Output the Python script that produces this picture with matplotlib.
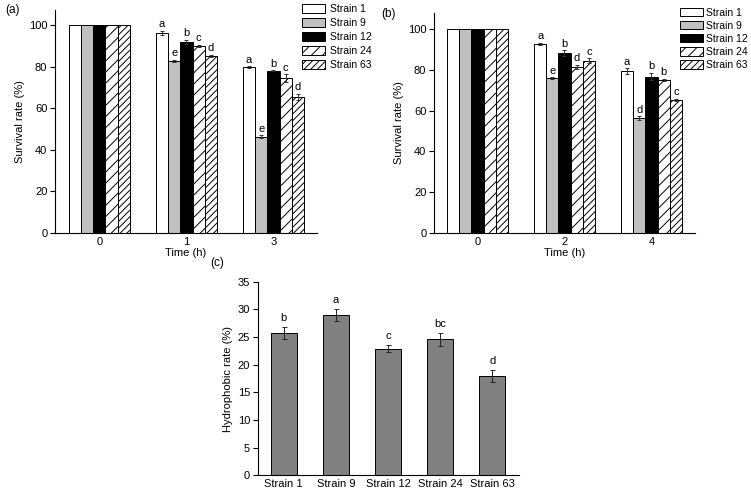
import matplotlib
matplotlib.use("Agg")
import matplotlib.pyplot as plt
import numpy as np

plt.rcParams['font.family'] = ['Liberation Sans', 'DejaVu Sans']
plt.rcParams['hatch.linewidth'] = 0.7

strains = ["Strain 1", "Strain 9", "Strain 12", "Strain 24", "Strain 63"]

# Panel (a)
times_a = ["0", "1", "3"]
vals_a = {
    "Strain 1":  [100, 96.3, 79.8],
    "Strain 9":  [100, 82.8, 46.2],
    "Strain 12": [100, 91.8, 77.9],
    "Strain 24": [100, 89.9, 74.5],
    "Strain 63": [100, 85.0, 65.4],
}
err_a = {
    "Strain 1":  [0, 1.0, 0.3],
    "Strain 9":  [0, 0.5, 0.6],
    "Strain 12": [0, 1.0, 0.3],
    "Strain 24": [0, 0.5, 1.8],
    "Strain 63": [0, 0.5, 1.3],
}
letters_a = {
    "Strain 1":  ["", "a", "a"],
    "Strain 9":  ["", "e", "e"],
    "Strain 12": ["", "b", "b"],
    "Strain 24": ["", "c", "c"],
    "Strain 63": ["", "d", "d"],
}

# Panel (b)
times_b = ["0", "2", "4"]
vals_b = {
    "Strain 1":  [100, 92.8, 79.3],
    "Strain 9":  [100, 75.8, 56.3],
    "Strain 12": [100, 88.1, 76.6],
    "Strain 24": [100, 81.5, 75.0],
    "Strain 63": [100, 84.5, 65.3],
}
err_b = {
    "Strain 1":  [0, 0.4, 1.4],
    "Strain 9":  [0, 0.5, 0.8],
    "Strain 12": [0, 1.5, 1.8],
    "Strain 24": [0, 1.0, 0.5],
    "Strain 63": [0, 1.2, 0.4],
}
letters_b = {
    "Strain 1":  ["", "a", "a"],
    "Strain 9":  ["", "e", "d"],
    "Strain 12": ["", "b", "b"],
    "Strain 24": ["", "d", "b"],
    "Strain 63": ["", "c", "c"],
}

# Panel (c)
hydro_vals = [25.8, 29.0, 22.9, 24.6, 18.0]
hydro_err = [1.1, 1.1, 0.6, 1.2, 1.1]
hydro_letters = ["b", "a", "c", "bc", "d"]

styles = {
    "Strain 1":  dict(color="white", hatch=None),
    "Strain 9":  dict(color="#c0c0c0", hatch=None),
    "Strain 12": dict(color="black", hatch=None),
    "Strain 24": dict(color="white", hatch="///"),
    "Strain 63": dict(color="white", hatch="/////"),
}

FS = 8

fig = plt.figure(figsize=(7.51, 4.93), dpi=100)


def grouped(ax, times, vals, errs, letters, ymax, xlim):
    x = np.arange(len(times))
    w = 0.14
    handles = []
    for i, s in enumerate(strains):
        pos = x + (i - 2) * w
        st = styles[s]
        b = ax.bar(pos, vals[s], width=w, color=st["color"], hatch=st["hatch"],
                   edgecolor="black", linewidth=0.7, label=s, zorder=2)
        handles.append(b)
        e = np.array(errs[s])
        m = e > 0
        ax.errorbar(pos[m], np.array(vals[s])[m], yerr=e[m], fmt="none",
                    ecolor="#333333", elinewidth=0.7, capsize=1.6, capthick=0.7, zorder=3)
        for p, v, er, l in zip(pos, vals[s], errs[s], letters[s]):
            if l:
                ax.text(p, v + er + 0.8, l, ha="center", va="bottom", fontsize=FS)
    ax.set_xlim(*xlim)
    ax.set_ylim(0, ymax)
    ax.set_xticks(x)
    ax.set_xticklabels(times)
    ax.set_yticks([0, 20, 40, 60, 80, 100])
    ax.set_xlabel("Time (h)", fontsize=FS, labelpad=1)
    ax.set_ylabel("Survival rate (%)", fontsize=FS, labelpad=3)
    for sp in ["top", "right"]:
        ax.spines[sp].set_visible(False)
    for sp in ["left", "bottom"]:
        ax.spines[sp].set_linewidth(0.8)
    ax.tick_params(axis="y", direction="out", length=3.5, width=0.8, labelsize=FS, pad=2)
    ax.tick_params(axis="x", direction="in", length=3, width=0.8, labelsize=FS, pad=3)
    return handles


ax_a = fig.add_axes([0.0732, 0.528, 0.3489, 0.4517])
h = grouped(ax_a, times_a, vals_a, err_a, letters_a, 107.2, (-0.51, 2.5))
fig.legend(handles=h, labels=strains, loc="upper left", bbox_to_anchor=(0.397, 1.0),
           frameon=False, fontsize=7.5, handlelength=2.2, handleheight=0.85,
           labelspacing=0.38, handletextpad=0.5, borderaxespad=0.2, borderpad=0.2)
fig.text(0.007, 0.979, "(a)", fontsize=FS + 0.5, va="center", ha="left")

ax_b = fig.add_axes([0.5779, 0.528, 0.3475, 0.4456])
h = grouped(ax_b, times_b, vals_b, err_b, letters_b, 107.9, (-0.5, 2.5))
fig.legend(handles=h, labels=strains, loc="upper left", bbox_to_anchor=(0.9, 0.993),
           frameon=False, fontsize=7.5, handlelength=2.2, handleheight=0.85,
           labelspacing=0.3, handletextpad=0.3, borderaxespad=0.2, borderpad=0.2)
fig.text(0.508, 0.972, "(b)", fontsize=FS + 0.5, va="center", ha="left")

ax_c = fig.add_axes([0.3431, 0.0359, 0.348, 0.3927])
xc = np.arange(len(strains))
ax_c.bar(xc, hydro_vals, width=0.5, color="#808080", edgecolor="black", linewidth=0.7, zorder=2)
ax_c.errorbar(xc, hydro_vals, yerr=hydro_err, fmt="none", ecolor="#222222",
              elinewidth=0.7, capsize=1.8, capthick=0.7, zorder=3)
for p, v, er, l in zip(xc, hydro_vals, hydro_err, hydro_letters):
    ax_c.text(p, v + er + 0.7, l, ha="center", va="bottom", fontsize=FS)
ax_c.set_xlim(-0.5, 4.51)
ax_c.set_ylim(0, 35)
ax_c.set_yticks(np.arange(0, 36, 5))
ax_c.set_xticks(xc)
ax_c.set_xticklabels(strains)
ax_c.set_ylabel("Hydrophobic rate (%)", fontsize=FS, labelpad=3)
for sp in ["top", "right"]:
    ax_c.spines[sp].set_visible(False)
for sp in ["left", "bottom"]:
    ax_c.spines[sp].set_linewidth(0.8)
ax_c.tick_params(axis="y", direction="out", length=3.5, width=0.8, labelsize=FS, pad=2)
ax_c.tick_params(axis="x", direction="in", length=3, width=0.8, labelsize=FS, pad=3)
fig.text(0.28, 0.466, "(c)", fontsize=FS + 0.5, va="center", ha="left")

fig.savefig("out.png", dpi=100)
